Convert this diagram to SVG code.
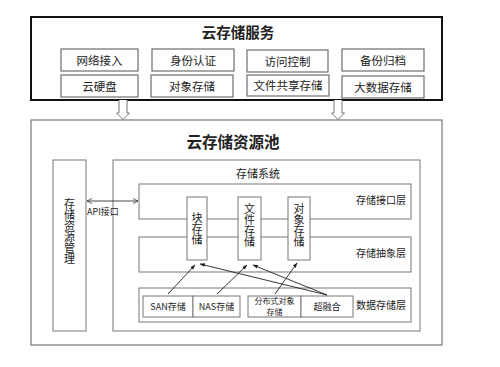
<svg xmlns="http://www.w3.org/2000/svg" width="500" height="367" viewBox="0 0 500 367">
<defs>
<style>
text{font-family:"Noto Sans CJK SC","Liberation Sans",sans-serif;fill:#222}
.b{fill:#fff;stroke:#6e6e6e;stroke-width:1.2}
.lay{fill:#fff;stroke:#777;stroke-width:1}
.t{font-size:11.5px;text-anchor:middle}
.s{font-size:9px;text-anchor:middle}
.l{font-size:10px;text-anchor:end}
.v{font-size:11px;writing-mode:vertical-rl;text-orientation:upright}
.ln{stroke:#222;stroke-width:0.9;fill:none}
.hol{fill:#fff;stroke:#777;stroke-width:1}
</style>
<marker id="ah" viewBox="0 0 10 10" refX="9" refY="5" markerWidth="6" markerHeight="6" orient="auto-start-reverse">
<path d="M0,1.5 L10,5 L0,8.5 z" fill="#222"/>
</marker>
<marker id="oh" viewBox="0 0 10 10" refX="9" refY="5" markerWidth="7" markerHeight="7" orient="auto-start-reverse">
<path d="M1,1 L9,5 L1,9" fill="none" stroke="#333" stroke-width="1.2"/>
</marker>
</defs>
<rect width="500" height="367" fill="#fff"/>

<g id="cloud-service">
<rect x="31" y="17" width="411" height="83" fill="#fff" stroke="#111" stroke-width="2"/>
<text x="238" y="38" font-size="14.5" font-weight="bold" text-anchor="middle">云存储服务</text>
</g>
<g id="svc-network"><rect class="b" x="61" y="49" width="77" height="22"/><text class="t" x="99.5" y="64.5">网络接入</text></g>
<g id="svc-identity"><rect class="b" x="152" y="49" width="82" height="22"/><text class="t" x="193" y="64.5">身份认证</text></g>
<g id="svc-access"><rect class="b" x="247" y="50" width="81" height="22"/><text class="t" x="287.5" y="65.5">访问控制</text></g>
<g id="svc-backup"><rect class="b" x="342" y="49" width="82" height="22"/><text class="t" x="383" y="64.5">备份归档</text></g>
<g id="svc-disk"><rect class="b" x="61" y="75" width="77" height="22"/><text class="t" x="99.5" y="90.5">云硬盘</text></g>
<g id="svc-object"><rect class="b" x="151" y="75" width="82" height="22"/><text class="t" x="192" y="90.5">对象存储</text></g>
<g id="svc-fileshare"><rect class="b" x="247" y="75" width="82" height="21"/><text class="t" x="288" y="90">文件共享存储</text></g>
<g id="svc-bigdata"><rect class="b" x="342" y="76" width="82" height="22"/><text class="t" x="383" y="91.5">大数据存储</text></g>

<g id="pool">
<rect x="31" y="120" width="411" height="225" fill="#fff" stroke="#777" stroke-width="1.2"/>
<text x="233" y="148" font-size="15.5" font-weight="bold" text-anchor="middle">云存储资源池</text>
</g>

<g id="mgmt">
<rect class="lay" x="53" y="160" width="33" height="171"/>
<text class="v" x="69.5" y="198">存储资源管理</text>
</g>

<g id="storage-system">
<rect class="lay" x="113" y="160" width="307" height="171"/>
<text x="258" y="178" font-size="11" text-anchor="middle">存储系统</text>
</g>
<g id="interface-layer"><rect class="lay" x="139" y="184" width="272" height="35"/><text class="l" x="406" y="204">存储接口层</text></g>
<g id="abstract-layer"><rect class="lay" x="139" y="237" width="272" height="35"/><text class="l" x="406" y="257">存储抽象层</text></g>
<g id="data-layer"><rect class="lay" x="139" y="288" width="272" height="34"/><text class="l" x="406" y="309">数据存储层</text></g>

<g id="block"><rect class="lay" x="187" y="197" width="20" height="63"/>
<text class="v" x="197" y="212">块存储</text></g>
<g id="file"><rect class="lay" x="238" y="197" width="23" height="63"/>
<text class="v" x="249.5" y="203">文件存储</text></g>
<g id="object"><rect class="lay" x="288" y="197" width="22" height="63"/>
<text class="v" x="299" y="203">对象存储</text></g>

<g id="san"><rect class="lay" x="143" y="296" width="50" height="21"/><text class="s" x="168" y="310">SAN存储</text></g>
<g id="nas"><rect class="lay" x="193" y="296" width="47" height="21"/><text class="s" x="216.5" y="310">NAS存储</text></g>
<g id="dist"><rect class="lay" x="248" y="296" width="53" height="21"/><text x="274.5" y="304" font-size="8" text-anchor="middle">分布式对象<tspan x="274.5" dy="10.5">存储</tspan></text></g>
<g id="hci"><rect class="lay" x="301" y="296" width="52" height="21"/><text class="s" x="327" y="310">超融合</text></g>

<g id="connectors">
<path class="hol" d="M119,100 V113 H116.5 L123,119.5 L129.5,113 H127 V100"/>
<path class="hol" d="M334,100 V113 H331.5 L338,119.5 L344.5,113 H342 V100"/>
<line x1="87" y1="201" x2="138" y2="201" stroke="#333" stroke-width="0.9" marker-start="url(#oh)" marker-end="url(#oh)"/>
<text x="87" y="215" font-size="9">API接口</text>
<line class="ln" x1="168" y1="294" x2="195" y2="265" marker-end="url(#ah)"/>
<line class="ln" x1="217" y1="294" x2="247" y2="265" marker-end="url(#ah)"/>
<line class="ln" x1="275" y1="294" x2="297" y2="263" marker-end="url(#ah)"/>
<line class="ln" x1="327" y1="295" x2="200" y2="264" marker-end="url(#ah)"/>
<line class="ln" x1="327" y1="295" x2="253" y2="265" marker-end="url(#ah)"/>
</g>
</svg>
